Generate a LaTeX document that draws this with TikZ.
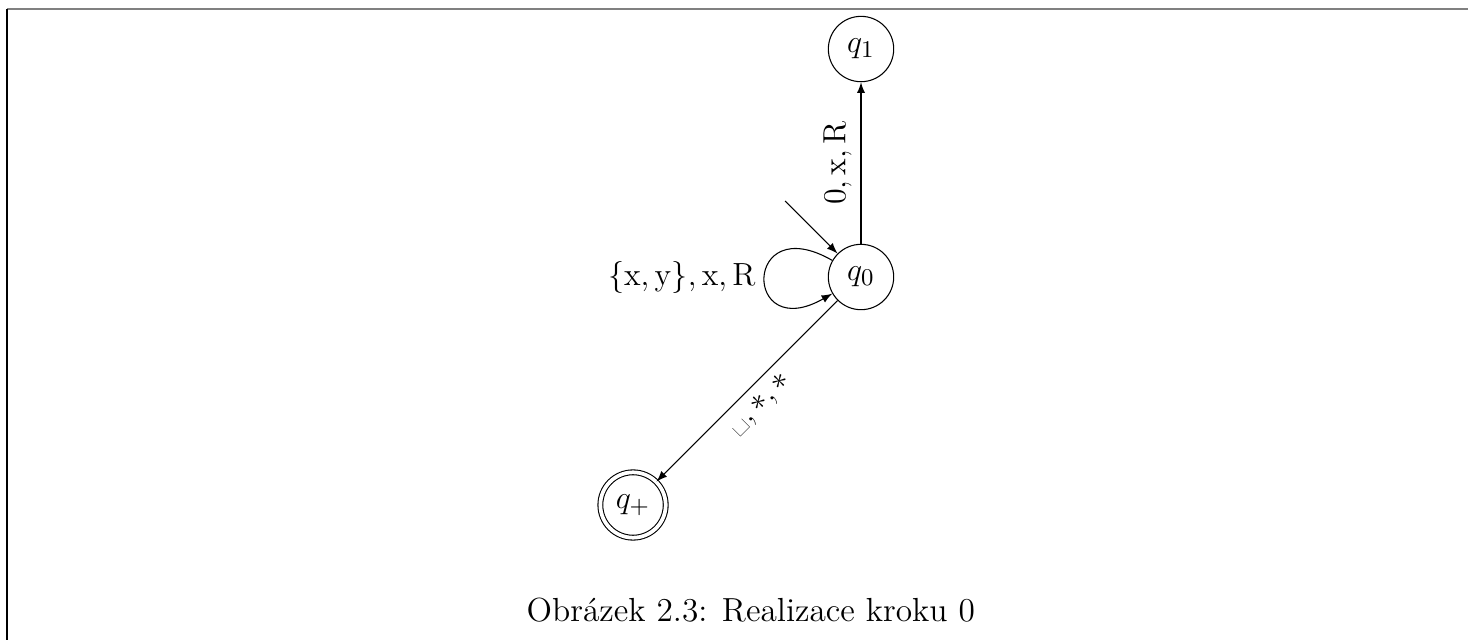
\documentclass[tikz,border=0pt]{standalone}
\usepackage{amsmath}
\usetikzlibrary{automata, positioning}

\begin{document}
\begin{tikzpicture}[>=latex, on grid,
    font=\fontsize{12.5}{15}\selectfont,
    every state/.style={draw, minimum size=0.86cm, inner sep=0pt},
    accepting by double/.style={double, double distance=1.4pt}]
    % Okraje
    \useasboundingbox (-11.33,-4.776) rectangle (7.987,3.645);
    \draw[gray, line width=0.8pt] (-11.237,3.526) -- (7.987,3.526);
    \draw[line width=0.6pt] (-11.237,3.526) -- (-11.237,-4.776);

    % Stavy
    \node[state] (q0) {$q_0$};
    \node[state, above=3cm of q0] (q1) {$q_1$};
    \node[state, accepting, below left=3cm and 3cm of q0] (qp) {$q_+$};

    % Start
    \coordinate (start) at (-1,1);
    \draw[->] (start) -- (q0);

    % Prechody
    \path[->] (q0) edge[loop, out=150, in=210, looseness=8] node[left] {$\{\mathrm{x}, \mathrm{y}\}, \mathrm{x}, \mathrm{R}$} (q0)
              (q0) edge node[above, sloped] {$0, \mathrm{x}, \mathrm{R}$} (q1)
              (q0) edge node[below, sloped] {\textvisiblespace$, *, *$} (qp);

    \node (cap) at (-1.45,-4.38) {Obrázek 2.3: Realizace kroku 0};
\end{tikzpicture}
\end{document}
